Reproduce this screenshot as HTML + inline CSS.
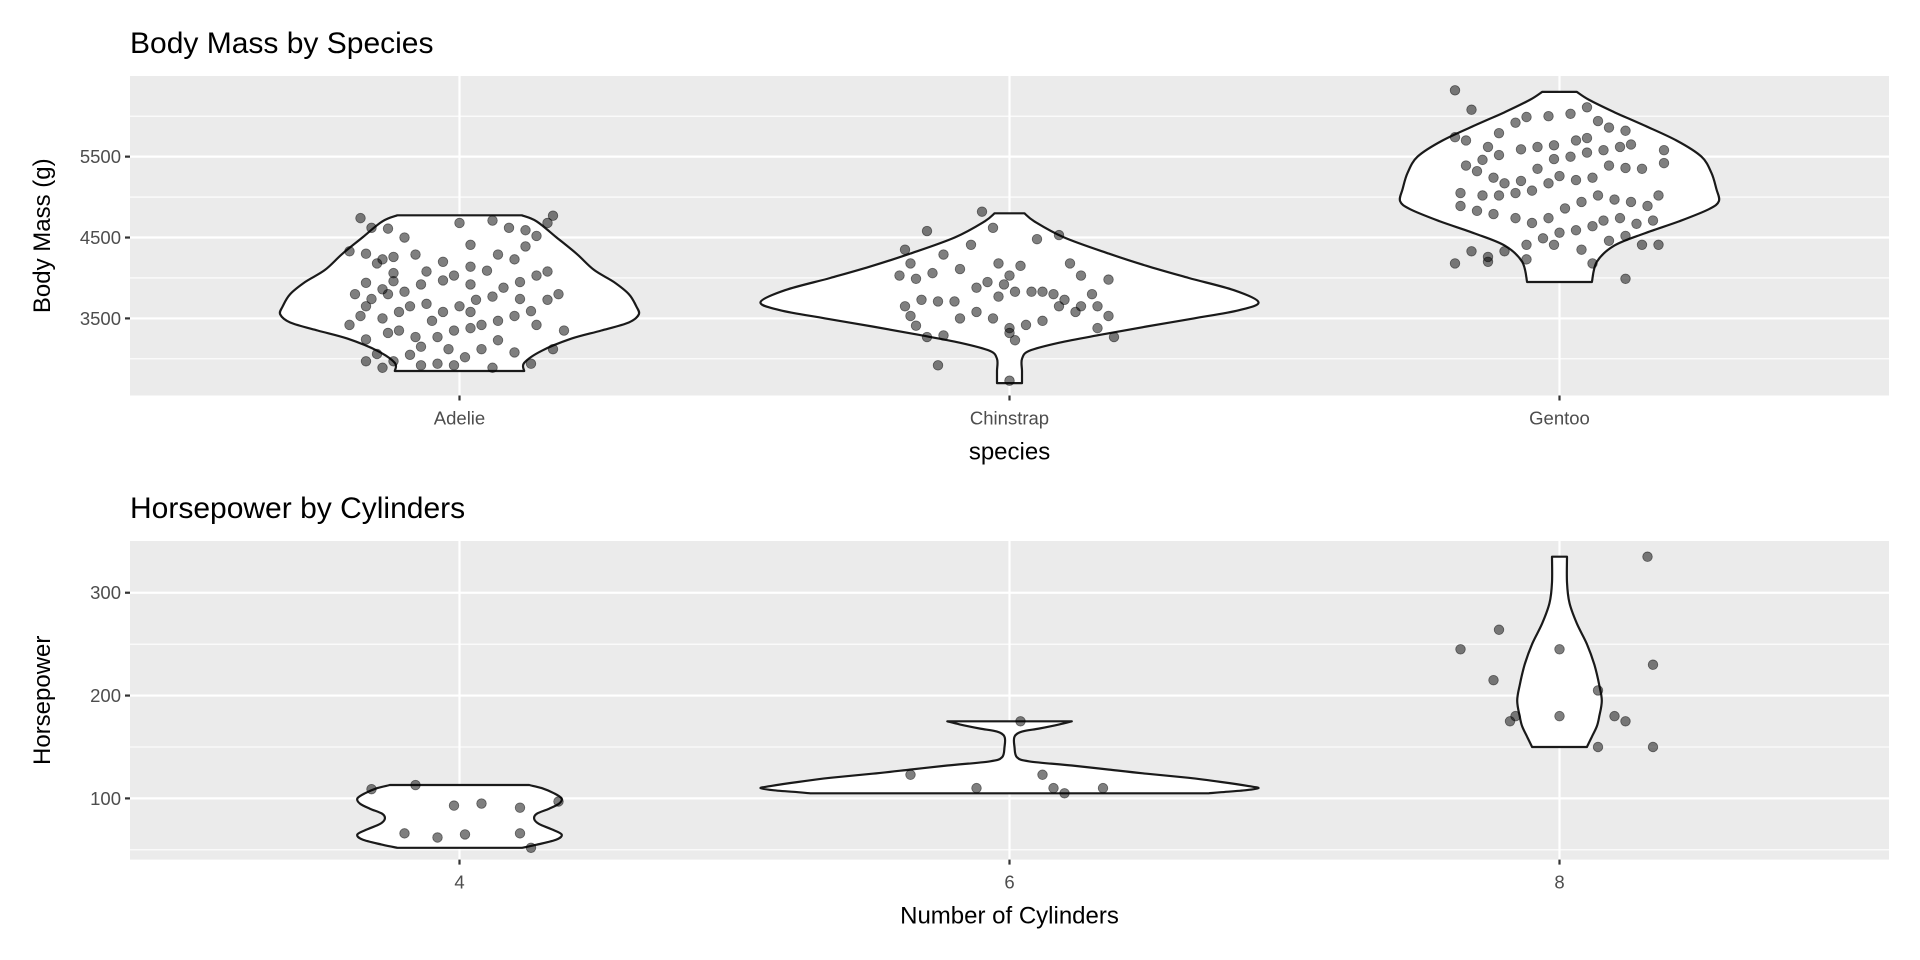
<!DOCTYPE html>
<html><head><meta charset="utf-8"><style>
html,body{margin:0;padding:0;background:#fff;}
svg{display:block;font-family:"Liberation Sans",sans-serif;}
</style></head><body>
<svg id="chart" width="1920" height="960" viewBox="0 0 1920 960"></svg>
<script>
// ---- top panel data ----
const speciesCats = ["Adelie","Chinstrap","Gentoo"];
const massTicks = [3500,4500,5500];
const massMinor = [3000,4000,5000,6000];
const adelieJit = [-0.18,-0.16,-0.13,-0.10,-0.17,-0.20,-0.15,-0.12,-0.08,-0.12,-0.17,-0.14,-0.19,-0.16,-0.13,-0.10,-0.07,-0.03,-0.01,0.02,0.05,0.07,0.10,0.12,0.14,0.17,0.16,0.12,0.09,0.06,0.00,0.02,-0.03,-0.06,-0.09,-0.11,-0.14,-0.18,-0.20,-0.17,-0.15,-0.17,-0.14,-0.12,-0.09,-0.07,-0.04,-0.01,0.02,0.04,0.07,0.10,0.13,0.16,0.18,0.19,0.17,0.13,0.10,0.07,0.04,0.01,-0.01,-0.04,-0.07,-0.08,-0.05,-0.03,0.00,0.03,0.06,0.08,0.11,0.14,0.16,-0.11,-0.13,-0.06,0.02,0.11,0.14,-0.17,-0.12,0.02,-0.02,0.06,-0.14];
const adelieMass = [4740,4620,4610,4500,4300,4330,4180,4260,4290,4060,3940,3860,3800,3740,3800,3830,3920,3970,4030,4140,4090,4290,4230,4390,4520,4770,4680,4590,4620,4710,4680,4410,4200,4080,3650,3580,3500,3530,3420,3240,3060,2970,2890,2970,3050,3150,3270,3350,3380,3420,3470,3530,3590,3730,3800,3350,3120,2940,3080,3230,3120,3020,2920,2940,2920,3270,3470,3580,3650,3730,3770,3880,3950,4030,4080,3350,3320,3680,3920,3740,3420,3650,3960,3580,3120,2890,4230];
const chinJit = [-0.15,-0.19,-0.18,-0.20,-0.17,-0.14,-0.12,-0.09,-0.07,-0.03,-0.05,-0.02,0.00,0.02,0.05,0.09,0.11,0.13,0.15,0.18,0.16,0.13,0.10,0.08,0.06,0.04,0.01,-0.01,-0.04,-0.06,-0.10,-0.13,-0.16,-0.19,-0.18,-0.17,-0.15,-0.12,-0.09,-0.06,-0.03,0.00,0.03,0.06,0.09,0.12,0.16,0.19,0.18,0.01,0.00,-0.13,0.00,-0.02];
const chinMass = [4580,4350,4180,4030,3990,4060,4290,4110,4410,4620,4820,4180,4030,4150,4480,4530,4180,4030,3800,3980,3650,3650,3730,3800,3830,3830,3830,3920,3950,3880,3710,3710,3730,3650,3530,3410,3270,3290,3500,3580,3500,3380,3420,3470,3650,3580,3380,3270,3530,3230,3320,2920,2730,3770];
const gentJit = [-0.19,-0.16,-0.19,-0.17,-0.13,-0.11,-0.08,-0.06,-0.02,0.02,0.05,0.07,0.09,0.12,0.05,0.03,-0.01,-0.04,-0.07,-0.11,-0.14,-0.17,-0.15,-0.12,-0.10,-0.07,-0.04,-0.01,0.02,0.05,0.08,0.11,0.13,0.19,0.19,0.15,0.12,0.09,0.06,0.03,0.00,-0.02,-0.05,-0.08,-0.11,-0.14,-0.18,-0.18,-0.15,-0.12,-0.08,-0.05,-0.02,0.01,0.04,0.07,0.10,0.13,0.16,0.18,0.17,0.14,0.11,0.08,0.06,0.03,0.00,-0.03,-0.06,-0.10,-0.13,-0.16,-0.19,-0.13,-0.06,-0.01,0.04,0.09,0.12,0.15,0.18,0.12,0.06];
const gentMass = [6320,6080,5740,5700,5620,5790,5920,5990,6000,6030,6110,5940,5860,5820,5730,5700,5640,5620,5590,5520,5460,5390,5320,5240,5170,5200,5350,5470,5500,5550,5580,5620,5650,5580,5420,5350,5360,5390,5240,5210,5260,5170,5080,5050,5020,5020,5050,4890,4830,4790,4740,4680,4740,4860,4940,5020,4970,4940,4890,5020,4710,4670,4740,4710,4640,4590,4560,4490,4410,4330,4260,4330,4180,4200,4230,4410,4350,4460,4520,4410,4410,3990,4180];
const adelieVioV = [4775,4700,4500,4300,4100,3950,3800,3650,3550,3450,3350,3250,3100,2950,2850];
const adelieVioW = [0.25,0.31,0.39,0.47,0.54,0.62,0.68,0.71,0.72,0.68,0.57,0.45,0.33,0.26,0.26];
const chinVioV = [4800,4700,4500,4300,4150,4000,3850,3700,3600,3500,3400,3300,3200,3100,3000,2850,2700];
const chinVioW = [0.06,0.10,0.22,0.40,0.55,0.72,0.90,1.00,0.92,0.74,0.55,0.37,0.20,0.08,0.05,0.05,0.05];
const gentVioV = [6300,6200,6050,5900,5700,5500,5300,5100,4950,4850,4700,4550,4400,4200,3950];
const gentVioW = [0.07,0.12,0.22,0.33,0.47,0.57,0.61,0.63,0.64,0.60,0.48,0.34,0.22,0.15,0.13];
// ---- bottom panel data ----
const cylCats = [4,6,8];
const hpTicks = [100,200,300];
const hpMinor = [50,150,250];
const cyl4Jit = [-0.16,-0.08,-0.10,-0.04,-0.01,0.01,0.04,0.11,0.11,0.13,0.18];
const cyl4Hp = [109,113,66,62,93,65,95,91,66,52,97];
const cyl6Jit = [-0.18,-0.06,0.02,0.06,0.08,0.10,0.17];
const cyl6Hp = [123,110,175,123,110,105,110];
const cyl8Jit = [-0.18,-0.12,-0.11,-0.09,-0.08,0.00,0.00,0.07,0.07,0.10,0.12,0.16,0.17,0.17];
const cyl8Hp = [245,215,264,175,180,245,180,205,150,180,175,335,230,150];
const cyl4VioV = [113,110,105,100,95,90,85,80,75,70,65,60,55,52];
const cyl4VioW = [0.28,0.33,0.38,0.41,0.40,0.36,0.31,0.30,0.32,0.37,0.41,0.39,0.31,0.25];
const cyl6VioV = [175,172,168,165,160,150,140,136,132,128,124,120,116,112,110,108,106,105];
const cyl6VioW = [0.25,0.20,0.12,0.05,0.02,0.02,0.03,0.08,0.25,0.40,0.55,0.72,0.85,0.96,1.00,0.95,0.85,0.80];
const cyl8VioV = [335,310,290,270,250,230,210,195,180,170,160,150];
const cyl8VioW = [0.03,0.03,0.04,0.07,0.11,0.14,0.16,0.17,0.16,0.15,0.13,0.11];

const NS = "http://www.w3.org/2000/svg";
const svg = document.getElementById("chart");
function mk(tag, attrs, parent){const e=document.createElementNS(NS,tag);for(const k in attrs)e.setAttribute(k,attrs[k]);(parent||svg).appendChild(e);return e;}

const PL=130, PR=1889, SPACING=550, HALFMAX=249;

// Catmull-Rom segment string for a list of points (starting after the first point)
function smoothSeg(pts){
  let s="";
  for(let i=0;i<pts.length-1;i++){
    const p0=pts[Math.max(0,i-1)], p1=pts[i], p2=pts[i+1], p3=pts[Math.min(pts.length-1,i+2)];
    const c1=[p1[0]+(p2[0]-p0[0])/6, p1[1]+(p2[1]-p0[1])/6];
    const c2=[p2[0]-(p3[0]-p1[0])/6, p2[1]-(p3[1]-p1[1])/6];
    s+="C"+c1[0].toFixed(1)+","+c1[1].toFixed(1)+" "+c2[0].toFixed(1)+","+c2[1].toFixed(1)+" "+p2[0].toFixed(1)+","+p2[1].toFixed(1);
  }
  return s;
}

function panel(cfg){
  const g=mk("g",{});
  
  
  const y = v => cfg.top + (cfg.vmax - v)/(cfg.vmax - cfg.vmin)*(cfg.bottom-cfg.top);
  const x = i => PL + (PR-PL)/2 + (i-1)*SPACING;
  const bg=mk("rect",{x:PL,y:cfg.top,width:PR-PL,height:cfg.bottom-cfg.top,fill:"#EBEBEB"},g);
  
  
  cfg.minor.forEach(v=>{const l=mk("line",{x1:PL,x2:PR,y1:y(v),y2:y(v),stroke:"#fff","stroke-width":1.1},g);
    
    });
  cfg.ticks.forEach(v=>{const l=mk("line",{x1:PL,x2:PR,y1:y(v),y2:y(v),stroke:"#fff","stroke-width":2.2},g);
    
    
    const t=mk("line",{x1:PL-5,x2:PL,y1:y(v),y2:y(v),stroke:"#333","stroke-width":2.2},g);
    
    
    const tx=mk("text",{x:PL-9,y:y(v)+6.5,"text-anchor":"end","font-size":18.5,fill:"#4D4D4D"},g);tx.textContent=v;
    
    });
  cfg.cats.forEach((c,i)=>{const l=mk("line",{x1:x(i),x2:x(i),y1:cfg.top,y2:cfg.bottom,stroke:"#fff","stroke-width":2.2},g);
    
    
    const t=mk("line",{x1:x(i),x2:x(i),y1:cfg.bottom,y2:cfg.bottom+5,stroke:"#333","stroke-width":2.2},g);
    
    
    const tx=mk("text",{x:x(i),y:cfg.bottom+29,"text-anchor":"middle","font-size":18.5,fill:"#4D4D4D"},g);tx.textContent=c;
    
    });
  cfg.violins.forEach((vd,i)=>{
    const [vv,ww]=vd;
    const right=vv.map((v,k)=>[x(i)+ww[k]*HALFMAX,y(v)]);
    const left=vv.map((v,k)=>[x(i)-ww[k]*HALFMAX,y(v)]).reverse();
    let d="M"+left[left.length-1][0].toFixed(1)+","+left[left.length-1][1].toFixed(1);
    d+="L"+right[0][0].toFixed(1)+","+right[0][1].toFixed(1);
    d+=smoothSeg(right);
    d+="L"+left[0][0].toFixed(1)+","+left[0][1].toFixed(1);
    d+=smoothSeg(left)+"Z";
    const p=mk("path",{d:d,fill:"#fff",stroke:"#1a1a1a","stroke-width":2.2,"stroke-linejoin":"round"},g);
    
    
  });
  cfg.points.forEach((pd,i)=>{
    const [jit,vals]=pd;
    vals.forEach((v,k)=>{
      const c=mk("circle",{cx:x(i)+jit[k]*SPACING,cy:y(v),r:4.8,fill:"rgba(0,0,0,0.5)",stroke:"rgba(0,0,0,0.5)","stroke-width":0.8},g);
      
      
    });
  });
  const ti=mk("text",{x:PL,y:cfg.titleY,"font-size":30,fill:"#000"},g);ti.textContent=cfg.title;
  
  
  const xt=mk("text",{x:(PL+PR)/2,y:cfg.bottom+64,"text-anchor":"middle","font-size":24,fill:"#000"},g);xt.textContent=cfg.xlab;
  
  
  const cy=(cfg.top+cfg.bottom)/2;
  const yt=mk("text",{x:0,y:0,transform:"translate(50,"+cy+") rotate(-90)","text-anchor":"middle","font-size":24,fill:"#000"},g);yt.textContent=cfg.ylab;
  
  
}

panel({name:"body-mass-panel",top:76,bottom:395.5,vmin:2547,vmax:6497,ticks:massTicks,minor:massMinor,cats:speciesCats,
  violins:[[adelieVioV,adelieVioW],[chinVioV,chinVioW],[gentVioV,gentVioW]],
  points:[[adelieJit,adelieMass],[chinJit,chinMass],[gentJit,gentMass]],
  title:"Body Mass by Species",titleY:53,xlab:"species",ylab:"Body Mass (g)"});
panel({name:"horsepower-panel",top:541,bottom:859.6,vmin:40.5,vmax:350.3,ticks:hpTicks,minor:hpMinor,cats:cylCats,
  violins:[[cyl4VioV,cyl4VioW],[cyl6VioV,cyl6VioW],[cyl8VioV,cyl8VioW]],
  points:[[cyl4Jit,cyl4Hp],[cyl6Jit,cyl6Hp],[cyl8Jit,cyl8Hp]],
  title:"Horsepower by Cylinders",titleY:518,xlab:"Number of Cylinders",ylab:"Horsepower"});
</script>
</body></html>
